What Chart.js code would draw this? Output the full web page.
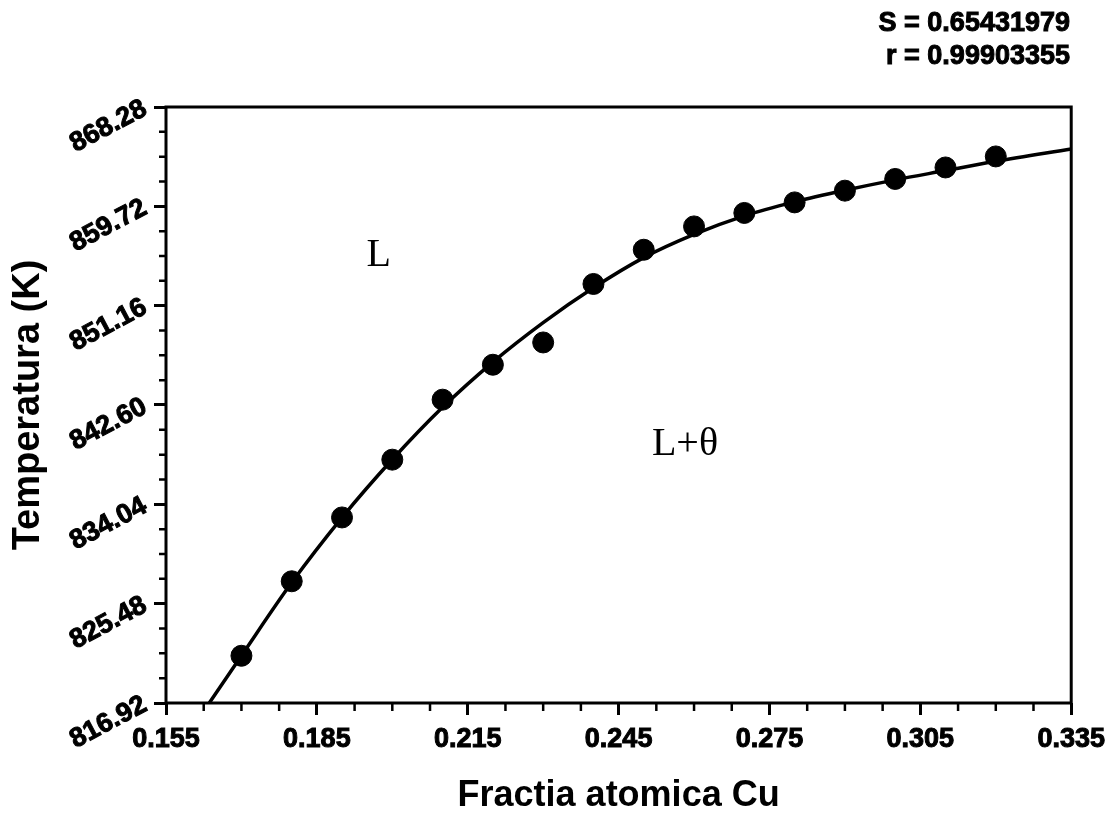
<!DOCTYPE html>
<html>
<head>
<meta charset="utf-8">
<script src="https://cdn.jsdelivr.net/npm/chart.js@4.4.1/dist/chart.umd.min.js"></script>
<style>
  html, body { margin: 0; padding: 0; background: #fff; }
  #wrap { width: 1113px; height: 818px; }
</style>
</head>
<body>
<div id="wrap"><canvas id="c" width="1113" height="818"></canvas></div>
<script>
// Measured liquidus points (atomic fraction Cu vs temperature)
const fractiaCu = [0.17, 0.18, 0.19, 0.20, 0.21, 0.22, 0.23, 0.24,
                   0.25, 0.26, 0.27, 0.28, 0.29, 0.30, 0.31, 0.32];
const temperatura = [820.99, 827.41, 832.91, 837.89, 843.06, 846.07, 847.99, 853.03,
                     855.98, 857.99, 859.15, 860.06, 861.07, 862.08, 863.07, 864.02];

// Fitted curve, sampled along the fraction axis
const fitX = [0.1636, 0.17, 0.18, 0.19, 0.20, 0.21, 0.22, 0.23, 0.24,
              0.25, 0.26, 0.27, 0.28, 0.29, 0.30, 0.31, 0.32, 0.335];
const fitT = [816.92, 821.0, 827.3, 832.9, 837.9, 842.4, 846.3, 849.7, 852.7,
              855.3, 857.3, 858.9, 860.1, 861.1, 862.0, 862.8, 863.6, 864.66];

// Axis tick labels
const xTickLabels = ['0.155', '0.185', '0.215', '0.245', '0.275', '0.305', '0.335'];
const yTickLabels = ['816.92', '825.48', '834.04', '842.60', '851.16', '859.72', '868.28'];

// Fit statistics and phase-region labels
const fitStats = ['S = 0.65431979', 'r = 0.99903355'];
const regionLabels = ['L', 'L+\u03B8'];
const regionX = [0.1973, 0.2582];
const regionT = [855.5, 839.2];

const SANS = '"Liberation Sans", Arial, sans-serif';
const SERIF = '"Liberation Serif", "Times New Roman", serif';

const pts = fractiaCu.map((x, i) => ({ x: x, y: temperatura[i] }));
const fit = fitX.map((x, i) => ({ x: x, y: fitT[i] }));

// Frame, minor ticks and free text
const decor = {
  id: 'decor',
  afterDraw(chart) {
    const ctx = chart.ctx;
    const a = chart.chartArea;
    const xs = chart.scales.x, ys = chart.scales.y;
    ctx.save();
    ctx.strokeStyle = '#000';
    ctx.lineWidth = 3;
    ctx.strokeRect(a.left, a.top, a.right - a.left, a.bottom - a.top);

    // minor ticks: three between each pair of labelled ticks
    ctx.lineWidth = 2.5;
    ctx.beginPath();
    for (let i = 0; i < xTickLabels.length - 1; i++) {
      const v0 = parseFloat(xTickLabels[i]), v1 = parseFloat(xTickLabels[i + 1]);
      for (let k = 1; k < 4; k++) {
        const px = xs.getPixelForValue(v0 + (v1 - v0) * k / 4);
        ctx.moveTo(px, a.bottom);
        ctx.lineTo(px, a.bottom + 8);
      }
    }
    for (let i = 0; i < yTickLabels.length - 1; i++) {
      const v0 = parseFloat(yTickLabels[i]), v1 = parseFloat(yTickLabels[i + 1]);
      for (let k = 1; k < 4; k++) {
        const py = ys.getPixelForValue(v0 + (v1 - v0) * k / 4);
        ctx.moveTo(a.left, py);
        ctx.lineTo(a.left - 7, py);
      }
    }
    ctx.stroke();

    // fit statistics, top right
    ctx.fillStyle = '#000';
    ctx.strokeStyle = '#000';
    ctx.lineWidth = 1;
    ctx.font = 'bold 27px ' + SANS;
    ctx.textAlign = 'right';
    ctx.textBaseline = 'middle';
    for (let i = 0; i < fitStats.length; i++) {
      ctx.fillText(fitStats[i], 1070, 24 + 33 * i);
      ctx.strokeText(fitStats[i], 1070, 24 + 33 * i);
    }

    // phase-region labels
    ctx.font = '40px ' + SERIF;
    ctx.textAlign = 'center';
    for (let i = 0; i < regionLabels.length; i++) {
      ctx.fillText(regionLabels[i], xs.getPixelForValue(regionX[i]), ys.getPixelForValue(regionT[i]));
    }
    ctx.restore();
  }
};

new Chart(document.getElementById('c'), {
  type: 'scatter',
  data: {
    datasets: [
      {
        type: 'line',
        data: fit,
        borderColor: '#000',
        borderWidth: 3.5,
        pointRadius: 0,
        cubicInterpolationMode: 'monotone',
        fill: false,
        order: 2
      },
      {
        type: 'scatter',
        data: pts,
        backgroundColor: '#000',
        borderColor: '#000',
        pointRadius: 10.5,
        pointHoverRadius: 10.5,
        order: 1
      }
    ]
  },
  options: {
    responsive: false,
    animation: false,
    devicePixelRatio: 1,
    layout: { padding: { top: 107, right: 40, bottom: 0, left: 0 } },
    plugins: { legend: { display: false }, tooltip: { enabled: false } },
    scales: {
      x: {
        type: 'linear',
        min: 0.155,
        max: 0.335,
        afterBuildTicks: (s) => { s.ticks = xTickLabels.map(v => ({ value: parseFloat(v) })); },
        afterFit: (s) => { s.height = 115; },
        ticks: {
          color: '#000',
          font: { family: SANS, size: 27, weight: 'bold' },
          textStrokeColor: '#000',
          textStrokeWidth: 1,
          padding: 8,
          maxRotation: 0,
          callback: (v) => v.toFixed(3)
        },
        grid: { display: true, drawOnChartArea: false, drawTicks: true, tickLength: 12, tickWidth: 3, tickColor: '#000' },
        border: { display: false },
        title: {
          display: true,
          text: 'Fractia atomica Cu',
          color: '#000',
          font: { family: SANS, size: 36, weight: 'bold' },
          padding: { top: 0, bottom: 0 }
        }
      },
      y: {
        type: 'linear',
        min: 816.92,
        max: 868.28,
        afterBuildTicks: (s) => { s.ticks = yTickLabels.map(v => ({ value: parseFloat(v) })); },
        afterFit: (s) => { s.width = 166; },
        ticks: {
          color: '#000',
          font: { family: SANS, size: 27, weight: 'bold' },
          textStrokeColor: '#000',
          textStrokeWidth: 1,
          padding: 9,
          minRotation: 28,
          maxRotation: 28,
          callback: (v) => v.toFixed(2)
        },
        grid: { display: true, drawOnChartArea: false, drawTicks: true, tickLength: 12, tickWidth: 3, tickColor: '#000' },
        border: { display: false },
        title: {
          display: true,
          text: 'Temperatura (K)',
          color: '#000',
          font: { family: SANS, size: 38, weight: 'bold' },
          padding: { top: 6, bottom: 0 }
        }
      }
    }
  },
  plugins: [decor]
});
</script>
</body>
</html>
